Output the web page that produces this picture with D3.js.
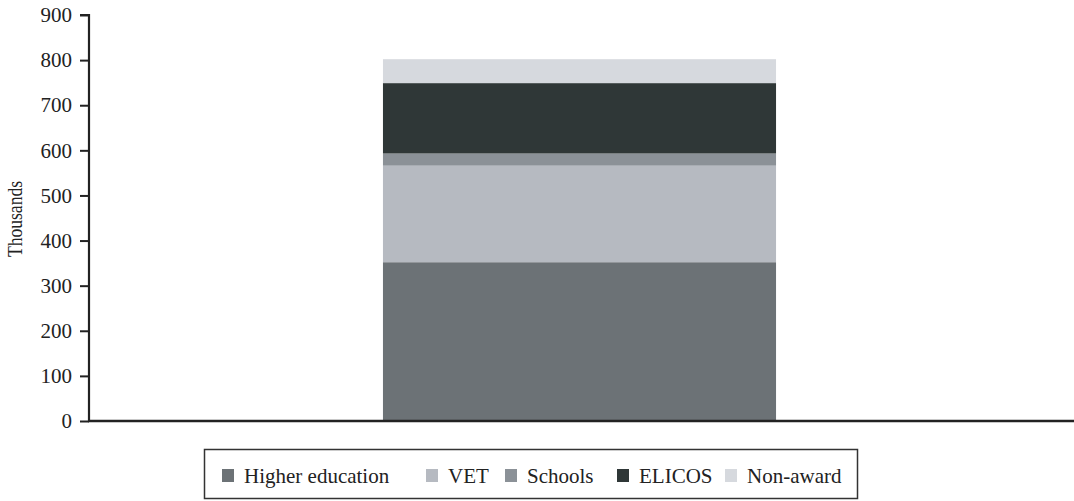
<!DOCTYPE html>
<html>
<head>
<meta charset="utf-8">
<script src="https://cdn.jsdelivr.net/npm/d3@7"></script>
<style>
  html, body { margin: 0; padding: 0; background: #fff; }
  svg text { font-family: "Liberation Serif", "Times New Roman", serif; }
</style>
</head>
<body>
<svg id="chart" width="1074" height="501"></svg>
<script>
// Enrolments by sector (thousands), one stacked column
const categories = ["Total"];
const sectors = ["Higher education", "VET", "Schools", "ELICOS", "Non-award"];
const values = [352, 214, 27, 156, 53];
const colors = ["#6c7276", "#b6bac1", "#8b9197", "#2f3737", "#d6d9de"];
const yTicks = [0, 100, 200, 300, 400, 500, 600, 700, 800, 900];
const yLabel = "Thousands";

const serif = '"Liberation Serif", "Times New Roman", serif';
const svg = d3.select("#chart");
const x0 = 89, x1 = 1074, yTop = 15, yBase = 421;

const y = d3.scaleLinear().domain([0, 900]).range([yBase, yTop]);
const pad = 0.4287;
const x = d3.scaleBand().domain(categories).range([88, 1071]).paddingInner(pad).paddingOuter(pad);

// stacked segments
const rows = [Object.fromEntries(sectors.map((s, i) => [s, values[i]]))];
rows[0].cat = categories[0];
const stack = d3.stack().keys(sectors)(rows);
const color = d3.scaleOrdinal().domain(sectors).range(colors);

svg.append("g").selectAll("rect")
  .data(stack)
  .join("rect")
  .attr("x", x(categories[0]))
  .attr("width", x.bandwidth())
  .attr("y", d => y(d[0][1]))
  .attr("height", d => y(d[0][0]) - y(d[0][1]))
  .attr("fill", d => color(d.key));

// y axis
const yAxis = d3.axisLeft(y).tickValues(yTicks).tickSize(9).tickPadding(8);
const gy = svg.append("g").attr("transform", `translate(${x0},0)`).call(yAxis);
gy.attr("font-family", null).attr("font-size", null);
gy.select(".domain").attr("stroke", "#222").attr("stroke-width", 2.2)
  .attr("d", `M-9,${yTop}H0V${yBase}`);
gy.selectAll(".tick line").attr("stroke", "#222").attr("stroke-width", 2);
gy.selectAll(".tick text")
  .style("font-family", serif)
  .style("font-size", "21px")
  .attr("fill", "#222");

// baseline
svg.append("line")
  .attr("x1", x0 - 1).attr("x2", x1)
  .attr("y1", yBase).attr("y2", yBase)
  .attr("stroke", "#222").attr("stroke-width", 2.4);

// axis title
svg.append("text")
  .attr("transform", `translate(22,219) rotate(-90) scale(0.8,1)`)
  .attr("text-anchor", "middle")
  .style("font-family", serif)
  .style("font-size", "22px")
  .attr("fill", "#222")
  .text(yLabel);

// legend
const legend = svg.append("g");
legend.append("rect")
  .attr("x", 204.5).attr("y", 449.5).attr("width", 653).attr("height", 49)
  .attr("fill", "none").attr("stroke", "#333").attr("stroke-width", 1.5);
const legendX = [222, 426, 505, 617, 725];
const items = legend.selectAll("g.item")
  .data(sectors)
  .join("g")
  .attr("class", "item")
  .attr("transform", (d, i) => `translate(${legendX[i]},0)`);
items.append("rect")
  .attr("x", 0).attr("y", 469).attr("width", 12).attr("height", 13)
  .attr("fill", d => color(d));
items.append("text")
  .attr("x", 22).attr("y", 483)
  .style("font-family", serif)
  .style("font-size", "21px")
  .attr("fill", "#222")
  .text(d => d);
</script>
</body>
</html>
